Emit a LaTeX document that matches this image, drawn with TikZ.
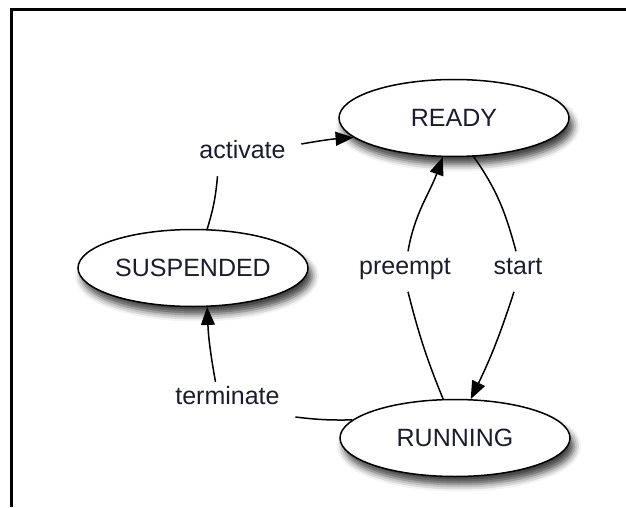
\documentclass[tikz,border=0pt]{standalone}
\usepackage{fontspec}
\setmainfont{Liberation Sans}
\usetikzlibrary{shapes.geometric,arrows.meta,shadows.blur}
\definecolor{cink}{RGB}{28,28,48}
\tikzset{fsm/.style={x=1pt,y=1pt,font=\fontsize{25}{30}\selectfont,line width=1.5pt}}
\tikzset{state/.style={ellipse,draw,fill=white,minimum width=230pt,minimum height=77pt,text=cink,
           blur shadow={shadow xshift=4pt,shadow yshift=-8pt,shadow blur radius=7pt,shadow opacity=75}},
         elabel/.style={inner sep=15pt,text height=0.7em,text depth=0.2em,text=cink},
         trans/.style={-{Triangle[length=18pt,width=14pt]}}}

\begin{document}
\begin{tikzpicture}[fsm]
    \useasboundingbox (0,0) rectangle (626,507);
    \draw[line width=3pt] (11,0) -- (11,497) -- (626,497);
    % states
    \node[state] (ready) at (454,389) {READY};
    \node[state] (susp)  at (193,239) {SUSPENDED};
    \node[state] (run)   at (455,69)  {RUNNING};
    % transition labels
    \node[elabel] (act)   at (242.5,351) {activate};
    \node[elabel] (term)  at (227.5,105) {terminate};
    \node[elabel] (pre)   at (405,235.5) {preempt};
    \node[elabel] (start) at (518,235.5) {start};
    % transitions, broken at their labels
    \draw (susp.70) to[bend right=6] ([xshift=-25pt]act.south);
    \draw[trans] ([yshift=12pt]act.east) to[bend left=3] (ready.191);
    \draw (run.170) to[bend left=4] ([yshift=-15pt]term.east);
    \draw[trans] ([xshift=-12pt]term.north) to[bend left=4] (susp.-70);
    \draw (ready.-63) to[out=-55,in=105] ([xshift=-2pt]start.north);
    \draw[trans] ([xshift=-4pt]start.south) to[bend left=4] (run.68);
    \draw (run.107) to[bend left=4] ([xshift=3pt]pre.south);
    \draw[trans] ([xshift=3pt]pre.north) to[out=80,in=-110] (ready.254);
\end{tikzpicture}
\end{document}
